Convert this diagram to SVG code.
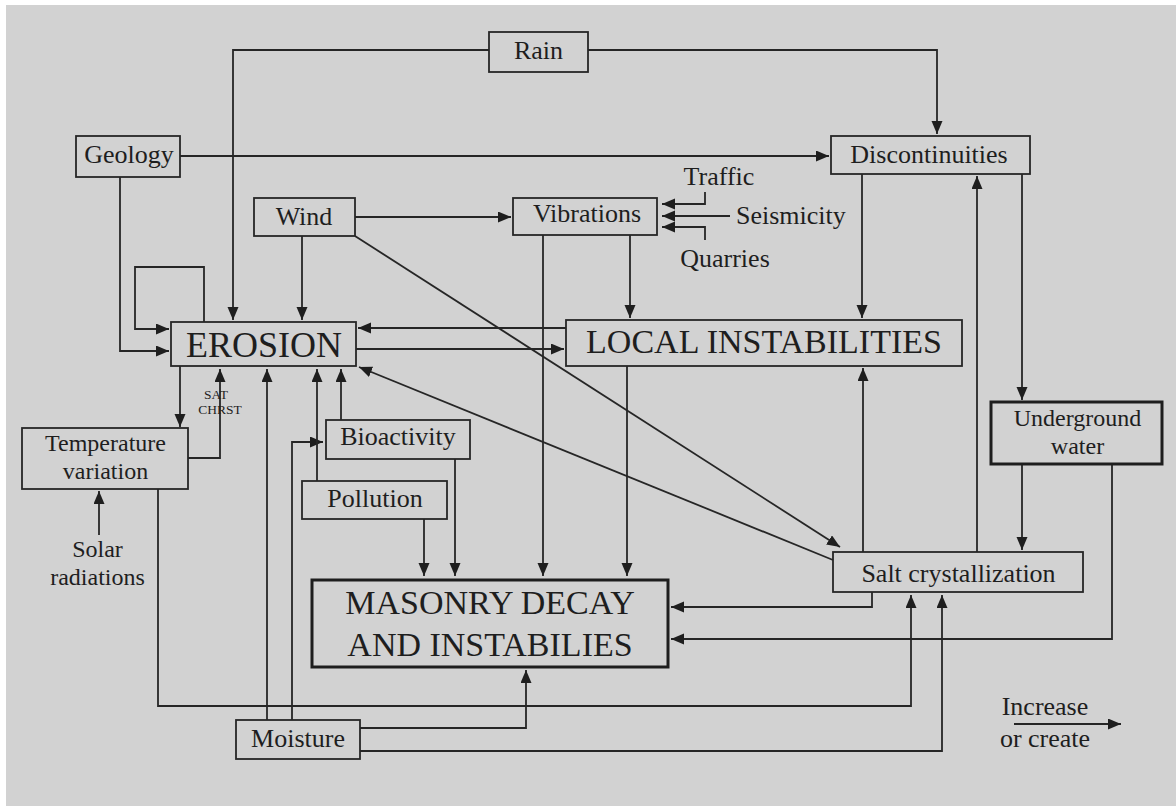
<svg xmlns="http://www.w3.org/2000/svg" width="1176" height="806" viewBox="0 0 1176 806">
<defs>
<marker id="ah" markerUnits="userSpaceOnUse" markerWidth="14" markerHeight="12" refX="13" refY="5.5" orient="auto">
<path d="M0,0 L13,5.5 L0,11 z" fill="#1e1e1e"/>
</marker>
<style>
.bx{fill:none;stroke:#262626;stroke-width:1.8}
.bxt{fill:none;stroke:#1e1e1e;stroke-width:3}
.t{font-family:"Liberation Serif","Times New Roman",serif;font-size:26px;fill:#1e1e1e;text-anchor:middle}
.two{font-size:24px}
.big{font-size:36px}
.mid{font-size:34px}
.sm{font-size:13.5px}
.c path{fill:none;stroke:#262626;stroke-width:1.8}
.c .a{marker-end:url(#ah)}
</style>
</defs>
<rect x="0" y="0" width="1176" height="806" fill="#ffffff"/>
<rect x="6" y="5" width="1170" height="801" fill="#d2d2d2"/>

<g id="connectors" class="c">
<path class="a" d="M489,50 H233 V320"/>
<path class="a" d="M588,50 H937 V134"/>
<path class="a" d="M180,156 H829"/>
<path class="a" d="M120,177 V351 H169"/>
<path class="a" d="M204,322 V267 H135 V329 H169"/>
<path class="a" d="M302,236 V320"/>
<path class="a" d="M355,217 H511"/>
<path class="a" d="M355,236 L840,547"/>
<path class="a" d="M630,235 V318"/>
<path class="a" d="M543,235 V576"/>
<path class="a" d="M705,192 V204 H662"/>
<path class="a" d="M730,216 H662"/>
<path class="a" d="M705,240 V227 H662"/>
<path class="a" d="M862,174 V318"/>
<path class="a" d="M1022,174 V400"/>
<path class="a" d="M566,328 H358"/>
<path class="a" d="M356,349 H564"/>
<path class="a" d="M627,366 V576"/>
<path class="a" d="M863,552 V368"/>
<path class="a" d="M977,552 V176"/>
<path class="a" d="M1022,464 V550"/>
<path class="a" d="M1112,464 V639 H671"/>
<path class="a" d="M872,592 V607 H671"/>
<path class="a" d="M833,560 L359,367"/>
<path class="a" d="M180,366 V427"/>
<path class="a" d="M188,458 H220 V369"/>
<path class="a" d="M99,535 V491"/>
<path class="a" d="M158,489 V706 H911 V595"/>
<path class="a" d="M267,720 V369"/>
<path class="a" d="M292,720 V442 H323"/>
<path class="a" d="M317,481 V369"/>
<path class="a" d="M341,420 V369"/>
<path class="a" d="M424,519 V576"/>
<path class="a" d="M455,459 V576"/>
<path class="a" d="M360,728 H526 V670"/>
<path class="a" d="M360,751 H942 V595"/>
<path class="a" d="M1014,724 H1121"/>
</g>

<g id="rain"><rect class="bx" x="489" y="32" width="99" height="40"/><text class="t" x="538.5" y="59">Rain</text></g>
<g id="geology"><rect class="bx" x="76" y="136" width="104" height="41"/><text class="t" x="129" y="163">Geology</text></g>
<g id="discontinuities"><rect class="bx" x="831" y="136" width="199" height="38"/><text class="t" x="929" y="163">Discontinuities</text></g>
<g id="wind"><rect class="bx" x="254" y="198" width="101" height="38"/><text class="t" x="304" y="225">Wind</text></g>
<g id="vibrations"><rect class="bx" x="513" y="198" width="144" height="37"/><text class="t" x="587" y="222">Vibrations</text></g>
<g id="traffic"><text class="t" x="719" y="185">Traffic</text></g>
<g id="seismicity"><text class="t" x="736" y="224" style="text-anchor:start">Seismicity</text></g>
<g id="quarries"><text class="t" x="725" y="267">Quarries</text></g>
<g id="erosion"><rect class="bx" x="171" y="322" width="185" height="44"/><text class="t big" x="264" y="357">EROSION</text></g>
<g id="local"><rect class="bx" x="566" y="320" width="396" height="46"/><text class="t mid" x="764" y="353">LOCAL INSTABILITIES</text></g>
<g id="satchrst"><text class="t sm" x="216" y="399">SAT</text><text class="t sm" x="220" y="414">CHRST</text></g>
<g id="temperature"><rect class="bx" x="22" y="428" width="166" height="61"/><text class="t two" x="105.5" y="451">Temperature</text><text class="t two" x="105.5" y="479">variation</text></g>
<g id="solar"><text class="t two" x="97.5" y="557">Solar</text><text class="t two" x="97.5" y="585">radiations</text></g>
<g id="bioactivity"><rect class="bx" x="326" y="420" width="144" height="39"/><text class="t" x="398" y="445">Bioactivity</text></g>
<g id="pollution"><rect class="bx" x="302" y="481" width="145" height="38"/><text class="t" x="375" y="507">Pollution</text></g>
<g id="underground"><rect class="bxt" x="991" y="402" width="171" height="62"/><text class="t two" x="1077.5" y="426">Underground</text><text class="t two" x="1077.5" y="454">water</text></g>
<g id="salt"><rect class="bx" x="833" y="552" width="250" height="40"/><text class="t" x="958.5" y="582">Salt crystallization</text></g>
<g id="masonry"><rect class="bxt" x="312" y="580" width="356" height="87"/><text class="t mid" x="490" y="614">MASONRY DECAY</text><text class="t mid" x="490" y="656">AND INSTABILIES</text></g>
<g id="moisture"><rect class="bx" x="236" y="720" width="124" height="39"/><text class="t" x="298" y="747">Moisture</text></g>
<g id="legend"><text class="t" x="1045" y="715">Increase</text><text class="t" x="1045" y="747">or create</text></g>
</svg>
